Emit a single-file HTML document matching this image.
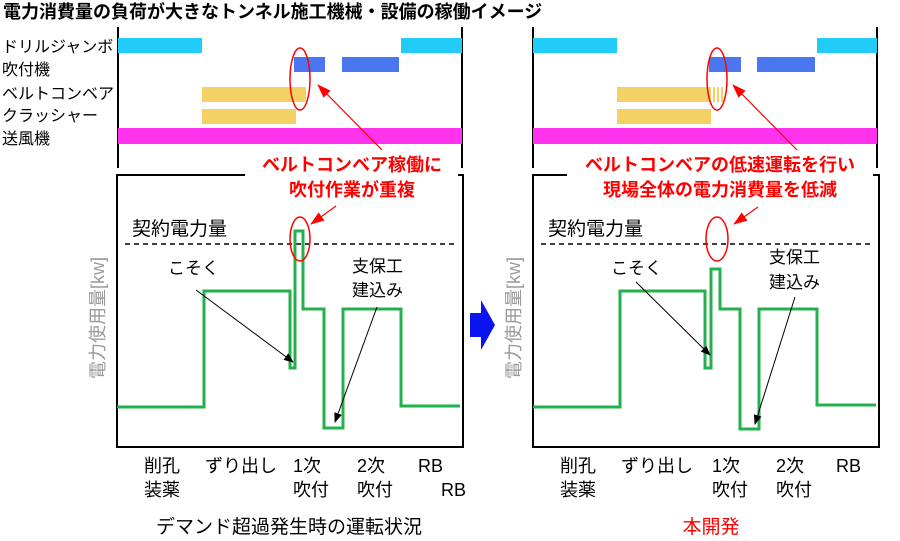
<!DOCTYPE html>
<html><head><meta charset="utf-8"><style>
html,body{margin:0;padding:0;background:#fff;}
svg text{font-family:"Liberation Sans","Noto Sans CJK JP",sans-serif;}
</style></head><body>
<svg width="900" height="536" viewBox="0 0 900 536" xmlns="http://www.w3.org/2000/svg">
<defs>
<marker id="ab" markerWidth="10" markerHeight="8" refX="9" refY="4" orient="auto" markerUnits="userSpaceOnUse"><path d="M0,0 L10,4 L0,8 z" fill="#000"/></marker>
<marker id="ar" markerWidth="14" markerHeight="10" refX="13" refY="5" orient="auto" markerUnits="userSpaceOnUse"><path d="M0,0 L14,5 L0,10 z" fill="#f00"/></marker>
</defs>
<text x="3" y="18" font-size="18" font-weight="bold">電力消費量の負荷が大きなトンネル施工機械・設備の稼働イメージ</text>
<g font-size="16">
<text x="2" y="52">ドリルジャンボ</text>
<text x="2" y="75">吹付機</text>
<text x="2" y="99">ベルトコンベア</text>
<text x="2" y="121">クラッシャー</text>
<text x="2" y="144">送風機</text>
</g>

<!-- LEFT -->
<g>
<line x1="118" y1="27" x2="118" y2="168" stroke="#000" stroke-width="2"/>
<line x1="462" y1="27" x2="462" y2="168" stroke="#000" stroke-width="2"/>
<rect x="118" y="38" width="84" height="15" fill="#22ccf8"/>
<rect x="401" y="38" width="61" height="15" fill="#22ccf8"/>
<rect x="294" y="57" width="31" height="15" fill="#4a77f0"/>
<rect x="342" y="57" width="57" height="15" fill="#4a77f0"/>
<rect x="202" y="87" width="104" height="15" fill="#f4d165"/>
<rect x="202" y="109" width="94" height="15" fill="#f4d165"/>
<rect x="118" y="128" width="344" height="16" fill="#ff33ee"/>
<ellipse cx="300" cy="79" rx="10" ry="31" fill="none" stroke="#f00" stroke-width="1.5"/>
<line x1="382" y1="150" x2="318" y2="85" stroke="#f00" stroke-width="1.2" marker-end="url(#ar)"/>
<path d="M245,175 H117 V447 H463 V175 H458" fill="none" stroke="#000" stroke-width="2"/>
<text x="352" y="171" font-size="18" font-weight="bold" fill="#f00" text-anchor="middle">ベルトコンベア稼働に</text>
<text x="352" y="196" font-size="18" font-weight="bold" fill="#f00" text-anchor="middle">吹付作業が重複</text>
<line x1="336" y1="206" x2="311" y2="224" stroke="#f00" stroke-width="1.2" marker-end="url(#ar)"/>
<text x="132" y="235" font-size="19">契約電力量</text>
<line x1="125" y1="244" x2="457" y2="244" stroke="#000" stroke-width="1.5" stroke-dasharray="5,4"/>
<polyline points="117,407 204,407 204,291 290,291 290,368 295,368 295,231 303,231 303,309 324,309 324,428 343,428 343,309 401,309 401,406 460,406" fill="none" stroke="#22b14c" stroke-width="3"/>
<ellipse cx="300" cy="239" rx="10" ry="22" fill="none" stroke="#f00" stroke-width="1.5"/>
<text x="168" y="274" font-size="17">こそく</text>
<line x1="196" y1="290" x2="293" y2="362" stroke="#000" stroke-width="1" marker-end="url(#ab)"/>
<text x="352" y="272" font-size="17">支保工</text>
<text x="352" y="296" font-size="17">建込み</text>
<line x1="377" y1="307" x2="335" y2="422" stroke="#000" stroke-width="1" marker-end="url(#ab)"/>
<text transform="translate(104,379) rotate(-90)" font-size="18" fill="#999">電力使用量[kw]</text>
<g font-size="18">
<text x="144" y="472">削孔</text><text x="144" y="496">装薬</text>
<text x="205" y="472">ずり出し</text>
<text x="293" y="472">1次</text><text x="293" y="496">吹付</text>
<text x="357" y="472">2次</text><text x="357" y="496">吹付</text>
<text x="418" y="472">RB</text><text x="441" y="496">RB</text>
</g>
<text x="289" y="533" font-size="19" text-anchor="middle">デマンド超過発生時の運転状況</text>
</g>

<!-- Blue arrow -->
<path d="M470,313 H481 V300 L495,325 L481,350 V337 H470 Z" fill="#0a14f0"/>

<!-- RIGHT -->
<g>
<line x1="533" y1="27" x2="533" y2="168" stroke="#000" stroke-width="2"/>
<line x1="877" y1="27" x2="877" y2="168" stroke="#000" stroke-width="2"/>
<rect x="533" y="38" width="84" height="15" fill="#22ccf8"/>
<rect x="817" y="38" width="60" height="15" fill="#22ccf8"/>
<rect x="709" y="57" width="32" height="15" fill="#4a77f0"/>
<rect x="757" y="57" width="58" height="15" fill="#4a77f0"/>
<rect x="617" y="87" width="94" height="15" fill="#f4d165"/>
<rect x="713" y="87" width="2" height="15" fill="#f4d165"/>
<rect x="717" y="87" width="2" height="15" fill="#f4d165"/>
<rect x="721" y="87" width="2" height="15" fill="#f4d165"/>
<rect x="617" y="109" width="94" height="15" fill="#f4d165"/>
<rect x="533" y="128" width="344" height="16" fill="#ff33ee"/>
<ellipse cx="717" cy="79" rx="10" ry="31" fill="none" stroke="#f00" stroke-width="1.5"/>
<line x1="797" y1="150" x2="733" y2="85" stroke="#f00" stroke-width="1.2" marker-end="url(#ar)"/>
<path d="M567,175 H533 V447 H879 V175 H873" fill="none" stroke="#000" stroke-width="2"/>
<text x="720" y="171" font-size="18" font-weight="bold" fill="#f00" text-anchor="middle">ベルトコンベアの低速運転を行い</text>
<text x="720" y="196" font-size="18" font-weight="bold" fill="#f00" text-anchor="middle">現場全体の電力消費量を低減</text>
<line x1="758" y1="207" x2="734" y2="224" stroke="#f00" stroke-width="1.2" marker-end="url(#ar)"/>
<text x="548" y="235" font-size="19">契約電力量</text>
<line x1="541" y1="244" x2="873" y2="244" stroke="#000" stroke-width="1.5" stroke-dasharray="5,4"/>
<polyline points="533,407 620,407 620,291 705,291 705,368 711,368 711,269 720,269 720,309 740,309 740,429 759,429 759,309 817,309 817,405 876,405" fill="none" stroke="#22b14c" stroke-width="3"/>
<ellipse cx="717" cy="239" rx="11" ry="22" fill="none" stroke="#f00" stroke-width="1.5"/>
<text x="611" y="274" font-size="17">こそく</text>
<line x1="636" y1="282" x2="710" y2="355" stroke="#000" stroke-width="1" marker-end="url(#ab)"/>
<text x="769" y="263" font-size="17">支保工</text>
<text x="769" y="288" font-size="17">建込み</text>
<line x1="795" y1="297" x2="755" y2="424" stroke="#000" stroke-width="1" marker-end="url(#ab)"/>
<text transform="translate(520,379) rotate(-90)" font-size="18" fill="#999">電力使用量[kw]</text>
<g font-size="18">
<text x="560" y="472">削孔</text><text x="560" y="496">装薬</text>
<text x="621" y="472">ずり出し</text>
<text x="712" y="472">1次</text><text x="712" y="496">吹付</text>
<text x="776" y="472">2次</text><text x="776" y="496">吹付</text>
<text x="836" y="472">RB</text>
</g>
<text x="711" y="533" font-size="19" fill="#f00" text-anchor="middle">本開発</text>
</g>
</svg>
</body></html>
